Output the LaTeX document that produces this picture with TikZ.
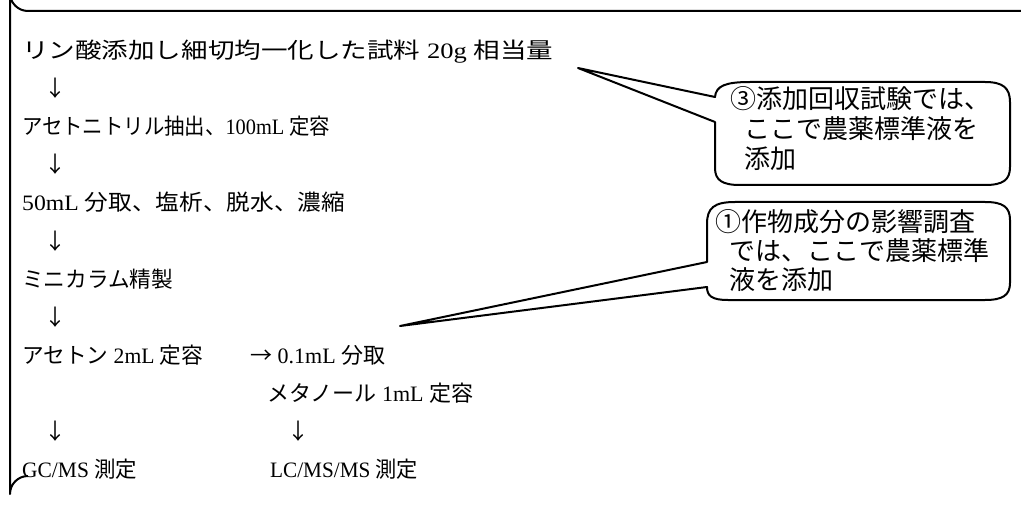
\documentclass[tikz,border=0pt]{standalone}
\usepackage{fontspec}
\usepackage{graphicx}
\setmainfont{Liberation Serif}
\newfontfamily\cjk{Noto Sans CJK JP}
\newcommand{\fitto}[2]{\resizebox{#1}{\height}{#2}}
\begin{document}
\begin{tikzpicture}[x=1pt,y=-1pt,
  txt/.style={anchor=base west, inner sep=0pt, font=\fontsize{22}{26}\selectfont},
  ctxt/.style={anchor=base west, inner sep=0pt, font=\fontsize{26}{30}\selectfont\cjk},
  frame/.style={draw=black, line width=2pt, line join=round},
  callout/.style={draw=black, fill=white, line width=2pt, line join=round}]
\useasboundingbox (0,0) rectangle (1021,508);
\clip (0,0) rectangle (1021,508);
% outer frame (cut off at right and bottom)
\draw[frame] (1040,11) -- (28,11) arc[start angle=90, end angle=180, radius=18] -- (10,494) arc[start angle=180, end angle=270, radius=18];
% main flow
\node[txt] (t1) at (22,59) {\fitto{531pt}{{\cjk リン酸添加し細切均一化した試料} 20g {\cjk 相当量}}};
\node[txt] (a1) at (44,97) {\cjk ↓};
\node[txt] (t2) at (22,135) {\fitto{308pt}{{\cjk アセトニトリル抽出、}100mL {\cjk 定容}}};
\node[txt] (a2) at (44,173) {\cjk ↓};
\node[txt] (t3) at (22,211) {\fitto{323pt}{50mL {\cjk 分取、塩析、脱水、濃縮}}};
\node[txt] (a3) at (44,249) {\cjk ↓};
\node[txt] (t4) at (22,287) {\fitto{151pt}{{\cjk ミニカラム精製}}};
\node[txt] (a4) at (44,325) {\cjk ↓};
\node[txt] (t5) at (22,363) {\fitto{181pt}{{\cjk アセトン} 2mL {\cjk 定容}}};
\node[txt] (t5b) at (250,363) {\fitto{135pt}{{\cjk →} 0.1mL {\cjk 分取}}};
\node[txt] (t6) at (267,401) {\fitto{206pt}{{\cjk メタノール} 1mL {\cjk 定容}}};
\node[txt] (a5) at (44,439) {\cjk ↓};
\node[txt] (a6) at (287,439) {\cjk ↓};
\node[txt] (t7) at (22,477) {\fitto{115pt}{GC/MS {\cjk 測定}}};
\node[txt] (t8) at (270,477) {\fitto{148pt}{LC/MS/MS {\cjk 測定}}};
% callout 1
\coordinate (tip1) at (578,68);
\draw[callout] (715,122) -- (tip1) -- (715,97) .. controls (716,86) and (725,82) .. (750,82) -- (985,82) .. controls (1003,82) and (1010,88) .. (1010,102) -- (1010,167) .. controls (1010,180) and (1003,185) .. (985,185) -- (740,185) .. controls (722,185) and (715,180) .. (715,168) -- cycle;
\node[ctxt] (c1a) at (730,109) {③添加回収試験では、};
\node[ctxt] (c1b) at (744,139) {ここで農薬標準液を};
\node[ctxt] (c1c) at (744,169) {添加};
% callout 2
\coordinate (tip2) at (400,326);
\draw[callout] (707,287) -- (tip2) -- (707,262) -- (707,224) .. controls (707,208) and (714,202) .. (735,202) -- (985,202) .. controls (1003,202) and (1010,207) .. (1010,220) -- (1010,283) .. controls (1010,295) and (1003,300) .. (985,300) -- (728,300) .. controls (712,300) and (707,296) .. (707,287) -- cycle;
\node[ctxt] (c2a) at (715,231) {①作物成分の影響調査};
\node[ctxt] (c2b) at (729,260) {では、ここで農薬標準};
\node[ctxt] (c2c) at (729,289) {液を添加};
\end{tikzpicture}
\end{document}
